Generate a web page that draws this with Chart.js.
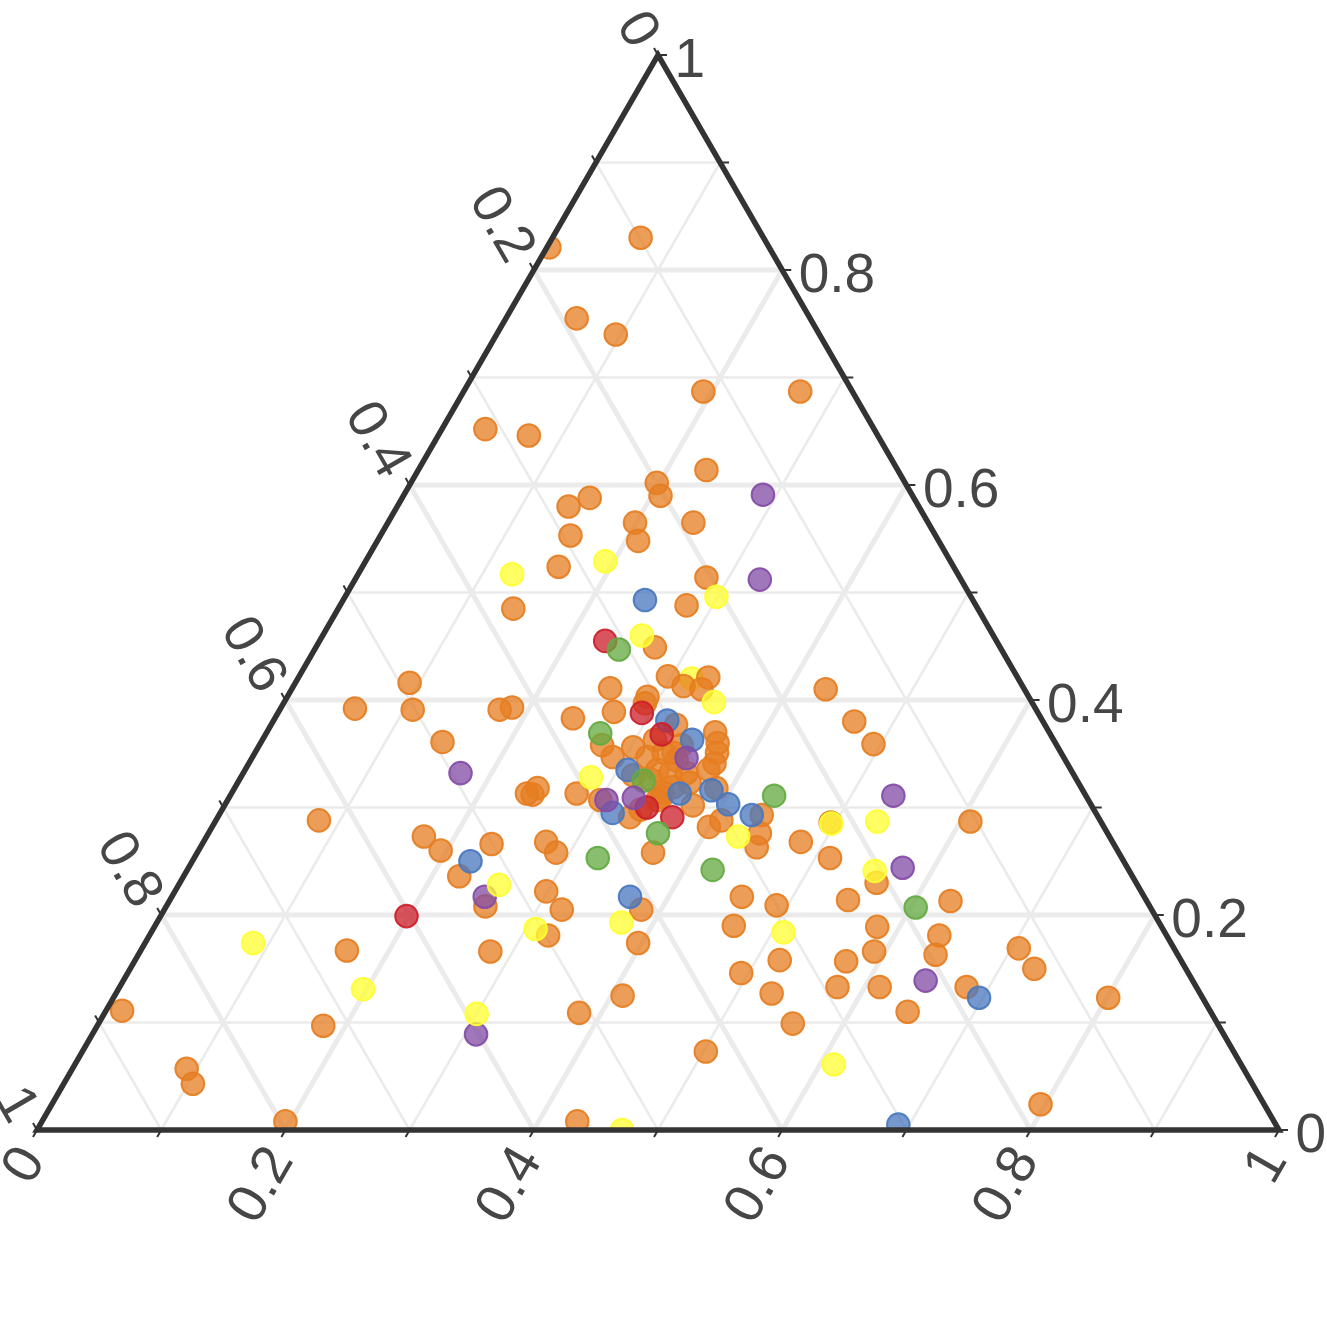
<!DOCTYPE html>
<html><head><meta charset="utf-8">
<script src="https://cdn.jsdelivr.net/npm/chart.js@4.4.1/dist/chart.umd.min.js"></script>
<style>html,body{margin:0;padding:0;background:#fff}#wrap{width:1327px;height:1318px}canvas{display:block}</style>
</head><body><div id="wrap"><canvas id="c" width="1327" height="1318"></canvas></div>
<script>
// Ternary compositions: [bottom-axis value, right-axis value]; left-axis value = 1 - bottom - right
const tickValues = [0, 0.2, 0.4, 0.6, 0.8, 1];
const gridSteps = [0.1, 0.2, 0.3, 0.4, 0.5, 0.6, 0.7, 0.8, 0.9];

const orangePoints = [[0.071,0.830],[0.002,0.821],[0.057,0.755],[0.096,0.740],[0.193,0.687],[0.271,0.687],[0.035,0.652],[0.073,0.646],[0.232,0.614],[0.198,0.602],[0.207,0.590],[0.151,0.588],[0.138,0.580],[0.199,0.565],[0.246,0.565],[0.153,0.553],[0.210,0.548],[0.158,0.524],[0.282,0.514],[0.279,0.488],[0.141,0.485],[0.273,0.449],[0.092,0.416],[0.060,0.392],[0.107,0.391],[0.177,0.391],[0.186,0.393],[0.240,0.383],[0.256,0.411],[0.290,0.403],[0.291,0.397],[0.297,0.422],[0.314,0.413],[0.330,0.421],[0.330,0.410],[0.430,0.410],[0.468,0.380],[0.494,0.359],[0.146,0.361],[0.083,0.288],[0.175,0.273],[0.195,0.260],[0.222,0.236],[0.233,0.266],[0.257,0.208],[0.238,0.313],[0.243,0.312],[0.244,0.318],[0.278,0.313],[0.276,0.268],[0.289,0.258],[0.299,0.222],[0.320,0.205],[0.321,0.181],[0.282,0.166],[0.166,0.167],[0.182,0.097],[0.013,0.111],[0.092,0.057],[0.104,0.043],[0.196,0.008],[0.431,0.008],[0.382,0.109],[0.409,0.125],[0.397,0.174],[0.384,0.205],[0.502,0.073],[0.494,0.146],[0.528,0.127],[0.559,0.099],[0.519,0.158],[0.466,0.190],[0.459,0.217],[0.491,0.209],[0.481,0.268],[0.512,0.253],[0.546,0.214],[0.578,0.133],[0.573,0.157],[0.591,0.166],[0.612,0.133],[0.582,0.189],[0.561,0.230],[0.646,0.110],[0.642,0.163],[0.636,0.181],[0.629,0.213],[0.608,0.287],[0.706,0.169],[0.728,0.150],[0.682,0.133],[0.801,0.123],[0.796,0.024],[0.496,0.286],[0.377,0.302],[0.400,0.282],[0.407,0.288],[0.444,0.276],[0.448,0.263],[0.437,0.293],[0.367,0.258],[0.276,0.358],[0.290,0.347],[0.302,0.356],[0.361,0.370],[0.368,0.360],[0.372,0.351],[0.375,0.341],[0.318,0.347],[0.329,0.351],[0.343,0.344],[0.332,0.335],[0.344,0.332],[0.357,0.332],[0.331,0.326],[0.353,0.319],[0.364,0.323],[0.347,0.314],[0.315,0.330],[0.373,0.335],[0.388,0.318],[0.300,0.307],[0.332,0.291],[0.346,0.307],[0.348,0.310],[0.270,0.389],[0.337,0.351],[0.340,0.358],[0.316,0.363],[0.326,0.377],[0.337,0.298]];
const bluePoints = [[0.243,0.493],[0.317,0.381],[0.346,0.363],[0.308,0.335],[0.361,0.313],[0.316,0.295],[0.385,0.316],[0.405,0.303],[0.429,0.293],[0.224,0.250],[0.369,0.217],[0.691,0.005],[0.697,0.123]];
const redPoints = [[0.230,0.455],[0.293,0.388],[0.319,0.368],[0.341,0.300],[0.366,0.291],[0.198,0.199]];
const greenPoints = [[0.245,0.447],[0.269,0.369],[0.326,0.325],[0.362,0.276],[0.325,0.253],[0.423,0.242],[0.438,0.311],[0.604,0.207]];
const purplePoints = [[0.289,0.591],[0.326,0.512],[0.175,0.332],[0.305,0.307],[0.326,0.309],[0.350,0.346],[0.252,0.217],[0.309,0.089],[0.534,0.311],[0.575,0.244],[0.646,0.139]];
const yellowPoints = [[0.124,0.517],[0.193,0.529],[0.299,0.496],[0.257,0.460],[0.346,0.398],[0.282,0.328],[0.428,0.273],[0.258,0.228],[0.308,0.187],[0.374,0.193],[0.087,0.174],[0.197,0.131],[0.300,0.108],[0.471,0.000],[0.497,0.285],[0.533,0.287],[0.554,0.241],[0.509,0.184],[0.611,0.061]];
// yellow point partly hidden behind the orange cluster
const yellowHiddenPoints = [[0.317,0.420]];

const H = Math.sqrt(3) / 2;
const toXY = p => ({ x: p[0] + p[1] / 2, y: p[1] * H });

function ds(label, pts, rgb, order) {
  return {
    label, order,
    data: pts.map(toXY),
    backgroundColor: `rgba(${rgb},0.76)`,
    borderColor: `rgba(${rgb},0.92)`,
    borderWidth: 2,
    pointRadius: 11.3,
    pointHoverRadius: 11.3,
    clip: false
  };
}

const fmt = v => v === 0 ? '0' : v === 1 ? '1' : v.toFixed(1);

const ternaryPlugin = {
  id: 'ternary',
  beforeDatasetsDraw(chart) {
    const ctx = chart.ctx, xs = chart.scales.x, ys = chart.scales.y;
    const P = (b, a) => [xs.getPixelForValue(b + a / 2), ys.getPixelForValue(a * H)];
    ctx.save();
    ctx.strokeStyle = '#ebebeb';
    for (const majorPass of [false, true]) {
      gridSteps.forEach((t, i) => {
        const major = (i % 2 === 1);
        if (major !== majorPass) return;
        ctx.lineWidth = major ? 5 : 2.5;
        const segs = [[P(0, t), P(1 - t, t)], [P(t, 0), P(t, 1 - t)], [P(1 - t, 0), P(0, 1 - t)]];
        for (const [p, q] of segs) { ctx.beginPath(); ctx.moveTo(p[0], p[1]); ctx.lineTo(q[0], q[1]); ctx.stroke(); }
      });
    }
    ctx.restore();
    ctx.save();
    const A = P(0, 0), Bp = P(1, 0), C = P(0, 1);
    ctx.beginPath(); ctx.moveTo(A[0], A[1]); ctx.lineTo(Bp[0], Bp[1]); ctx.lineTo(C[0], C[1]); ctx.closePath();
    ctx.clip();
  },
  afterDatasetsDraw(chart) {
    const ctx = chart.ctx, xs = chart.scales.x, ys = chart.scales.y;
    ctx.restore();
    const P = (b, a) => [xs.getPixelForValue(b + a / 2), ys.getPixelForValue(a * H)];
    ctx.save();
    ctx.strokeStyle = '#333'; ctx.lineWidth = 2;
    const ticks = [0].concat(gridSteps, [1]);
    for (const t of ticks) {
      let p = P(1 - t, t); ctx.beginPath(); ctx.moveTo(p[0], p[1]); ctx.lineTo(p[0] + 9, p[1]); ctx.stroke();
      p = P(t, 0); ctx.beginPath(); ctx.moveTo(p[0], p[1]); ctx.lineTo(p[0] - 4, p[1] + 7); ctx.stroke();
      p = P(0, 1 - t); ctx.beginPath(); ctx.moveTo(p[0], p[1]); ctx.lineTo(p[0] - 4, p[1] - 7); ctx.stroke();
    }
    const A = P(0, 0), Bp = P(1, 0), C = P(0, 1);
    ctx.strokeStyle = '#333'; ctx.lineWidth = 5.5; ctx.lineJoin = 'miter';
    ctx.beginPath(); ctx.moveTo(A[0], A[1]); ctx.lineTo(Bp[0], Bp[1]); ctx.lineTo(C[0], C[1]); ctx.closePath(); ctx.stroke();
    ctx.fillStyle = '#464646';
    ctx.font = '55px "Liberation Sans", Arial, sans-serif';
    ctx.textBaseline = 'alphabetic';
    for (const v of tickValues) {
      const s = fmt(v);
      let p = P(1 - v, v);
      ctx.textAlign = 'left';
      ctx.fillText(s, p[0] + 16.5, p[1] + 22);
      p = P(v, 0);
      ctx.save(); ctx.translate(p[0] + 9, p[1] + 30); ctx.rotate(-Math.PI / 3);
      ctx.textAlign = 'right'; ctx.fillText(s, 0, 0); ctx.restore();
      p = P(0, 1 - v);
      ctx.save(); ctx.translate(p[0] - 27, p[1] - 4); ctx.rotate(Math.PI / 3);
      ctx.textAlign = 'right'; ctx.fillText(s, 0, 0); ctx.restore();
    }
    ctx.restore();
  }
};

new Chart(document.getElementById('c'), {
  type: 'scatter',
  data: {
    datasets: [
      ds('yellow', yellowPoints, '255,255,50', 1),
      ds('purple', purplePoints, '132,76,166', 2),
      ds('green', greenPoints, '100,170,66', 3),
      ds('red', redPoints, '204,32,42', 4),
      ds('blue', bluePoints, '74,120,190', 5),
      ds('orange', orangePoints, '230,126,34', 6),
      ds('yellow ', yellowHiddenPoints, '255,255,50', 7)
    ]
  },
  options: {
    responsive: false,
    animation: false,
    devicePixelRatio: 1,
    layout: { padding: { left: 37, right: 48, top: 55, bottom: 188 } },
    scales: {
      x: { type: 'linear', min: 0, max: 1, display: false },
      y: { type: 'linear', min: 0, max: H, display: false }
    },
    plugins: { legend: { display: false }, tooltip: { enabled: false } }
  },
  plugins: [ternaryPlugin]
});
</script></body></html>
